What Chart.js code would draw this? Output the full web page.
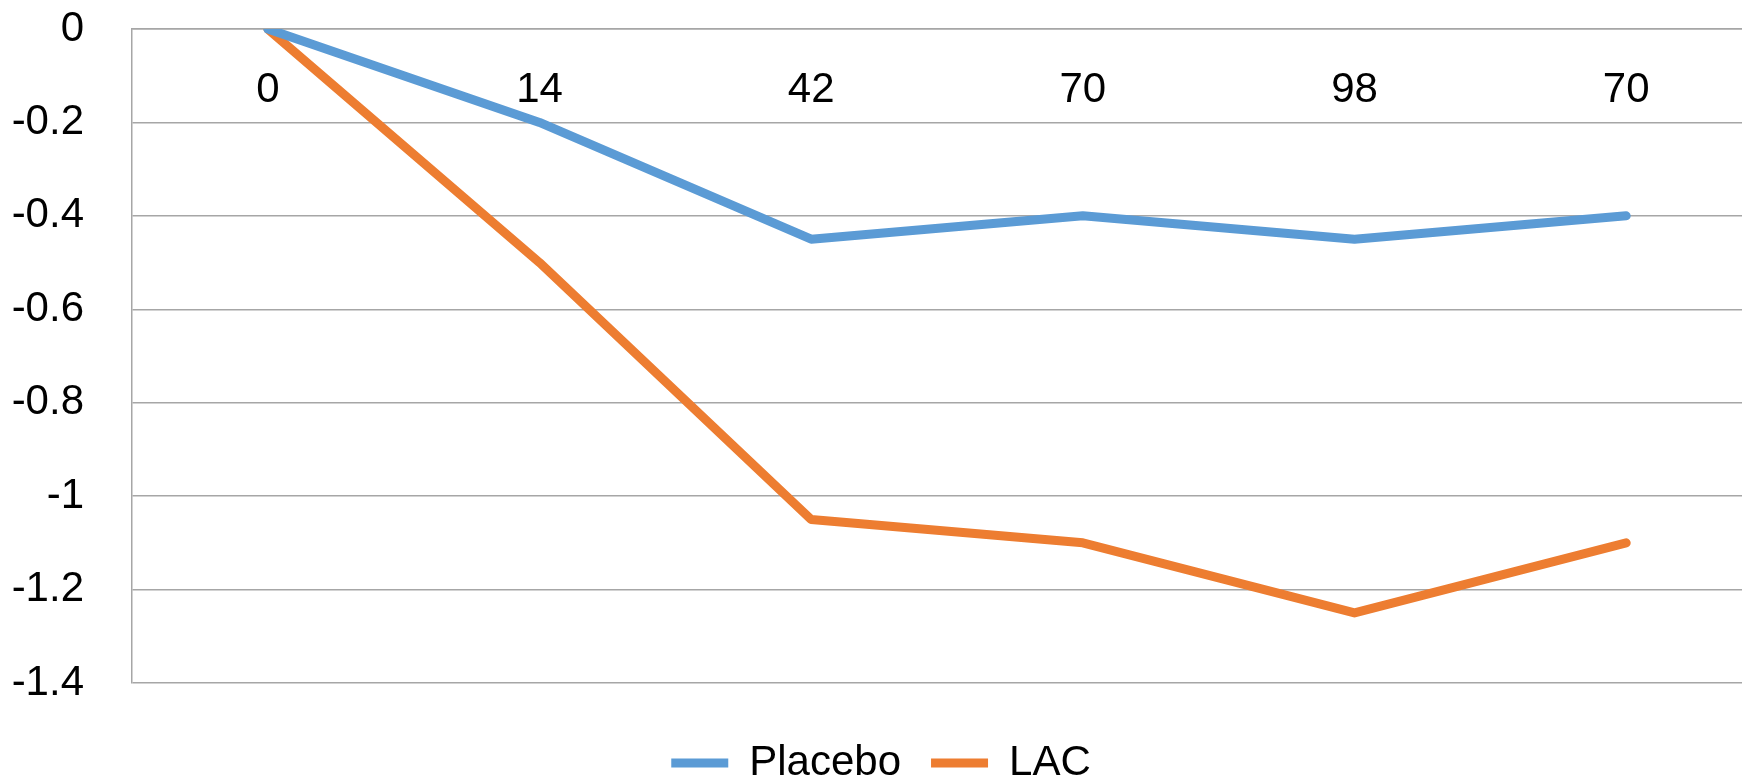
<!DOCTYPE html>
<html>
<head>
<meta charset="utf-8">
<script src="https://cdn.jsdelivr.net/npm/chart.js@4"></script>
<style>
  html, body { margin: 0; padding: 0; background: #fff; overflow: hidden; }
  /* plot runs a bit past the right edge in the original, so the box is wider than the window */
  #wrap { width: 1762px; height: 794px; }
</style>
</head>
<body>
<div id="wrap"><canvas id="myChart"></canvas></div>
<script>
'use strict';

const dayLabels = ['0', '14', '42', '70', '98', '70'];
const placeboValues = [0, -0.2, -0.45, -0.4, -0.45, -0.4];
const lacValues = [0, -0.5, -1.05, -1.1, -1.25, -1.1];

const yMin = -1.4;
const yMax = 0;
const yStep = 0.2;

const gridColor = '#a6a6a6';
const labelFont = { family: "'Liberation Sans', Arial, sans-serif", size: 42 };

const ctx = document.getElementById('myChart').getContext('2d');
const chart = new Chart(ctx, {
    type: 'line',
    data: {
        labels: dayLabels,
        datasets: [{
            label: 'Placebo',
            data: placeboValues,
            borderColor: '#5B9BD5',
            backgroundColor: '#5B9BD5',
            borderWidth: 9,
            pointRadius: 0,
            borderCapStyle: 'round',
            borderJoinStyle: 'round'
        }, {
            label: 'LAC',
            data: lacValues,
            borderColor: '#ED7D31',
            backgroundColor: '#ED7D31',
            borderWidth: 9,
            pointRadius: 0,
            borderCapStyle: 'round',
            borderJoinStyle: 'round'
        }]
    },
    options: {
        responsive: true,
        maintainAspectRatio: false,
        animation: false,
        layout: { padding: { top: 29, left: 0, right: 0, bottom: 0 } },
        plugins: {
            tooltip: { enabled: false },
            legend: {
                position: 'bottom',
                labels: {
                    usePointStyle: true,
                    pointStyle: 'line',
                    pointStyleWidth: 57,
                    padding: 30,
                    color: '#000',
                    font: labelFont
                },
                // empty title only used as a spacer above the legend row
                title: { display: true, text: '', padding: { top: 27.8, bottom: 0 }, font: { size: 1 } }
            }
        },
        scales: {
            x: {
                position: { y: 0 },
                offset: true,
                grid: { display: false, drawTicks: false },
                border: { display: true, color: gridColor, width: 1.5 },
                ticks: { color: '#000', font: labelFont, padding: 36, maxRotation: 0, autoSkip: false }
            },
            y: {
                min: yMin,
                max: yMax,
                ticks: {
                    stepSize: yStep,
                    padding: 0,
                    color: '#000',
                    font: labelFont,
                    callback: v => String(Math.round(v * 10) / 10)
                },
                // invisible tick marks give the gap between labels and axis
                // (ticks.padding would also push the plot top down)
                grid: { color: gridColor, lineWidth: 1.5, drawTicks: true, tickLength: 48, tickColor: 'rgba(0,0,0,0)' },
                border: { color: gridColor, width: 1.5 },
                afterFit: scale => { scale.width = 132; }
            }
        }
    }
});
</script>
</body>
</html>
